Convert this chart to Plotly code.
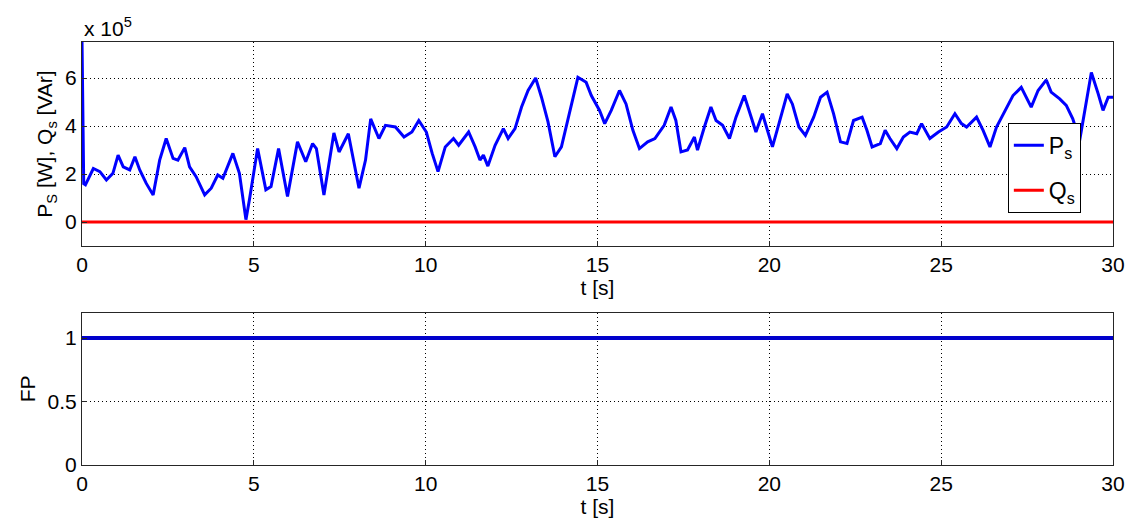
import plotly.graph_objects as go

# Stator active power P_s [W] sampled along the 30 s run
t_s = [0.0, 0.05, 0.1, 0.33, 0.52, 0.71, 0.9, 1.05, 1.2, 1.39, 1.54, 1.68, 1.87, 2.07,
       2.26, 2.45, 2.65, 2.79, 2.99, 3.13, 3.32, 3.57, 3.76, 3.95, 4.1, 4.39, 4.58,
       4.77, 4.87, 5.11, 5.35, 5.5, 5.72, 5.98, 6.27, 6.51, 6.71, 6.82, 7.04, 7.33,
       7.48, 7.75, 8.06, 8.25, 8.4, 8.64, 8.83, 9.12, 9.37, 9.6, 9.8, 10.02, 10.19,
       10.36, 10.57, 10.81, 10.96, 11.25, 11.44, 11.58, 11.68, 11.81, 12.02, 12.26,
       12.4, 12.6, 12.79, 12.98, 13.2, 13.37, 13.56, 13.76, 13.95, 14.2, 14.43, 14.67,
       14.82, 15.06, 15.21, 15.4, 15.64, 15.83, 16.03, 16.22, 16.46, 16.67, 16.94,
       17.14, 17.28, 17.43, 17.62, 17.82, 17.91, 18.11, 18.3, 18.45, 18.64, 18.84,
       19.03, 19.27, 19.46, 19.61, 19.8, 20.09, 20.28, 20.52, 20.67, 20.86, 21.05,
       21.29, 21.49, 21.68, 21.87, 22.07, 22.26, 22.45, 22.7, 22.84, 22.99, 23.23,
       23.37, 23.51, 23.71, 23.9, 24.09, 24.29, 24.43, 24.67, 24.92, 25.16, 25.4,
       25.59, 25.74, 26.03, 26.22, 26.42, 26.61, 26.85, 27.09, 27.33, 27.48, 27.62,
       27.82, 28.06, 28.2, 28.45, 28.64, 28.83, 29.03, 29.18, 29.37, 29.57, 29.71,
       29.86, 30.0]
p_s = [7.6e5, 1.6e5, 1.55e5, 2.23e5, 2.1e5, 1.75e5, 2.03e5, 2.79e5, 2.3e5, 2.17e5,
       2.72e5, 2.17e5, 1.61e5, 1.13e5, 2.58e5, 3.48e5, 2.65e5, 2.58e5, 3.1e5, 2.3e5,
       1.89e5, 1.13e5, 1.41e5, 1.96e5, 1.82e5, 2.86e5, 2.03e5, 0.1e5, 0.92e5, 3.06e5,
       1.34e5, 1.48e5, 3.06e5, 1.06e5, 3.34e5, 2.51e5, 3.27e5, 3.06e5, 1.13e5, 3.71e5,
       2.92e5, 3.68e5, 1.41e5, 2.58e5, 4.3e5, 3.48e5, 4.03e5, 3.96e5, 3.54e5, 3.75e5,
       4.23e5, 3.75e5, 2.86e5, 2.1e5, 3.13e5, 3.48e5, 3.2e5, 3.75e5, 3.13e5, 2.58e5,
       2.79e5, 2.33e5, 3.2e5, 3.89e5, 3.48e5, 3.89e5, 4.79e5, 5.48e5, 6.0e5, 5.2e5,
       4.17e5, 2.72e5, 3.13e5, 4.65e5, 6.03e5, 5.82e5, 5.27e5, 4.65e5, 4.1e5, 4.65e5,
       5.48e5, 4.92e5, 3.82e5, 3.06e5, 3.34e5, 3.48e5, 4.03e5, 4.79e5, 4.23e5, 2.92e5,
       3.0e5, 3.54e5, 3.0e5, 3.96e5, 4.79e5, 4.23e5, 4.03e5, 3.48e5, 4.37e5, 5.27e5,
       4.44e5, 3.75e5, 4.51e5, 3.13e5, 4.1e5, 5.34e5, 4.92e5, 3.96e5, 3.61e5, 4.37e5,
       5.2e5, 5.41e5, 4.51e5, 3.34e5, 3.27e5, 4.23e5, 4.37e5, 3.82e5, 3.13e5, 3.27e5,
       3.82e5, 3.48e5, 3.06e5, 3.54e5, 3.75e5, 3.68e5, 4.1e5, 3.48e5, 3.75e5, 3.96e5,
       4.51e5, 4.1e5, 3.96e5, 4.37e5, 3.82e5, 3.13e5, 3.96e5, 4.65e5, 5.27e5, 5.61e5,
       5.2e5, 4.79e5, 5.48e5, 5.92e5, 5.41e5, 5.13e5, 4.86e5, 4.3e5, 3.4e5, 4.65e5,
       6.23e5, 5.34e5, 4.65e5, 5.2e5, 5.2e5]

# Stator reactive power Q_s [VAr] and power factor FP
t_q = [0.0, 30.0]
q_s = [0.0, 0.0]
t_fp = [0.0, 30.0]
fp = [1.0, 1.0]

x_ticks = [0, 5, 10, 15, 20, 25, 30]
y1_ticks = [0, 2e5, 4e5, 6e5]
y1_labels = ["0", "2", "4", "6"]
y2_ticks = [0, 0.5, 1]
y2_labels = ["0", "0.5", "1"]

BLUE = "#0000ff"
RED = "#ff0000"
FRAME = "#262626"
FONT = dict(family="Liberation Sans, Arial, sans-serif", size=21, color="black")

fig = go.Figure()
fig.add_trace(go.Scatter(x=t_s, y=p_s, mode="lines", name="P<sub>s</sub>",
                         legendgroup="p", line=dict(color=BLUE, width=3),
                         xaxis="x", yaxis="y"))
fig.add_trace(go.Scatter(x=t_q, y=q_s, mode="lines", name="Q<sub>s</sub>",
                         legendgroup="q", line=dict(color=RED, width=3),
                         xaxis="x", yaxis="y"))
fig.add_trace(go.Scatter(x=t_fp, y=fp, mode="lines", showlegend=False,
                         line=dict(color="#0000cc", width=4), xaxis="x2", yaxis="y2"))

axis_common = dict(showline=True, mirror=True, linecolor=FRAME, linewidth=1,
                   ticks="inside", ticklen=5, tickcolor=FRAME,
                   showgrid=True, gridcolor="black", griddash="1px,3px", gridwidth=1,
                   zeroline=False, tickfont=FONT)

fig.update_layout(
    width=1137, height=522,
    margin=dict(l=82, r=20, t=42, b=55),
    plot_bgcolor="white", paper_bgcolor="white",
    font=FONT,
    xaxis=dict(domain=[0, 1], range=[0, 30], tickvals=x_ticks, anchor="y",
               title=dict(text="t [s]", standoff=0, font=FONT), **axis_common),
    yaxis=dict(domain=[0.5176, 1], range=[-1e5, 7.5e5], tickvals=y1_ticks,
               ticktext=y1_labels, anchor="x",
               title=dict(text="P<sub>S</sub> [W], Q<sub>s</sub> [VAr]",
                          standoff=6, font=FONT), **axis_common),
    xaxis2=dict(domain=[0, 1], range=[0, 30], tickvals=x_ticks, anchor="y2",
                title=dict(text="t [s]", standoff=0, font=FONT), **axis_common),
    yaxis2=dict(domain=[0, 0.36], range=[0, 1.2], tickvals=y2_ticks,
                ticktext=y2_labels, anchor="x2",
                title=dict(text="FP", standoff=6, font=FONT), **axis_common),
    legend=dict(x=0.898, y=0.809, xanchor="left", yanchor="top",
                bgcolor="white", bordercolor="black", borderwidth=1,
                tracegroupgap=12, itemwidth=30,
                font=dict(family="Liberation Sans, Arial, sans-serif", size=23)),
    annotations=[dict(text="x 10<sup>5</sup>", xref="paper", yref="paper",
                      x=0, y=1, xanchor="left", yanchor="bottom", showarrow=False,
                      font=FONT, yshift=0)],
)

fig.write_html("out.html")
